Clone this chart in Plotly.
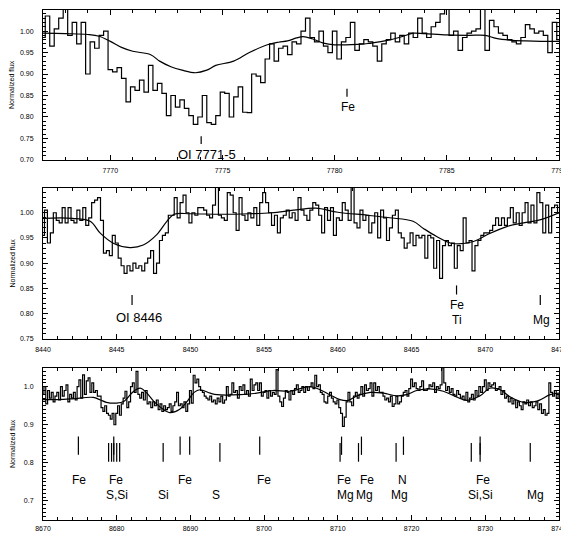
import numpy as np
import plotly.graph_objects as go

# ---------------- data ----------------
# Panel 1 (OI 7771-5 region), binned spectrum
p1_start, p1_step = 7767.0, 0.2
p1_flux = [
    0.985, 1.035, 0.965, 1.005, 1.03, 1.06, 0.99, 1.02, 0.97, 1.02,
    0.90, 0.975, 0.96, 0.99, 1.00, 0.91, 0.905, 0.915, 0.89, 0.835,
    0.87, 0.862, 0.886, 0.858, 0.92, 0.862, 0.878, 0.855, 0.803, 0.85,
    0.823, 0.84, 0.82, 0.803, 0.783, 0.80, 0.85, 0.787, 0.783, 0.803,
    0.858, 0.855, 0.80, 0.847, 0.87, 0.811, 0.81, 0.90, 0.895, 0.88,
    0.935, 0.97, 0.93, 0.96, 0.965, 0.945, 0.975, 0.97,
    1.00, 1.03, 0.985, 0.975, 1.00, 0.965, 0.95, 1.00, 0.935, 0.975,
    0.985, 1.02, 0.955, 0.97, 0.98, 0.975, 0.965, 0.93, 0.97, 0.98,
    0.995, 0.975, 0.99, 0.97, 0.995, 0.985, 1.03, 0.995, 0.985, 1.01,
    1.02, 1.04, 1.06, 0.99, 1.00, 0.955, 0.985, 0.995, 1.00, 1.005,
    1.06, 0.955, 1.025, 1.01, 0.995, 0.99, 0.98, 0.975, 0.97, 0.985,
    1.015, 1.005, 0.995, 1.00, 0.99, 0.95, 1.02, 0.98,
]
p1_model_wl = [7767.0, 7768.0, 7769.0, 7769.5, 7770.0, 7770.5, 7771.0, 7771.8, 7772.2, 7772.7,
               7773.2, 7773.8, 7774.3, 7774.7, 7775.5, 7776.2, 7777.0, 7777.5, 7777.9, 7778.3,
               7778.6, 7779.0, 7779.5, 7780.0, 7780.5, 7781.0, 7781.5, 7782.0, 7782.5, 7783.0,
               7783.5, 7784.0, 7785.0, 7786.0, 7786.7, 7787.2, 7787.8, 7788.5, 7789.2, 7790.0]
p1_model_flux = [0.995, 0.994, 0.992, 0.988, 0.976, 0.962, 0.953, 0.945, 0.93, 0.917,
                 0.909, 0.903, 0.909, 0.92, 0.93, 0.95, 0.968, 0.974, 0.977, 0.984,
                 0.987, 0.982, 0.972, 0.968, 0.968, 0.969, 0.971, 0.975, 0.98, 0.987,
                 0.995, 0.994, 0.991, 0.99, 0.99, 0.983, 0.979, 0.977, 0.976, 0.976]

# Panel 2 (OI 8446 region)
p2_start, p2_step = 8440.0, 0.2
p2_flux = [
    0.955, 1.005, 0.94, 0.96, 1.00, 0.985, 0.98, 1.01, 0.98, 1.01,
    0.985, 0.98, 1.005, 0.985, 1.01, 0.975, 0.99, 1.02, 1.025, 1.03,
    0.985, 0.92, 0.925, 0.915, 0.955, 0.94, 0.91, 0.895, 0.88, 0.895,
    0.885, 0.90, 0.89, 0.895, 0.885, 0.90, 0.91, 0.925, 0.88, 0.90,
    0.945, 0.955, 0.96, 0.995, 0.995, 1.03, 0.99, 1.02, 1.035, 1.00,
    0.98, 1.00, 0.995, 1.01,
    1.01, 1.005, 0.995, 0.99, 1.015, 1.05, 0.995, 0.99, 0.985, 1.04, 1.035,
    1.00, 0.965, 1.03, 0.995, 0.985,
    1.00, 0.99, 1.01, 0.975, 1.02,
    1.04, 1.02, 1.00, 0.975, 0.995,
    0.96, 0.99, 0.995, 1.005, 0.99,
    1.00, 0.985, 1.03, 1.005, 0.995,
    0.985, 1.005, 1.02, 1.015, 0.995,
    0.96, 1.01, 0.985, 1.01, 0.955,
    0.99, 0.985, 1.02, 1.005, 0.985,
    1.065, 0.98, 0.97, 1.005, 0.985,
    0.995, 0.96, 0.98, 1.00, 0.95,
    1.005, 0.99, 0.945, 0.97, 0.995,
    1.005, 0.96, 0.95, 0.93, 0.94,
    0.96, 0.935, 0.955, 0.95, 0.955,
    0.91, 0.955, 0.95, 0.89, 0.945,
    0.87, 0.935, 0.945, 0.935, 0.94,
    0.89, 0.935, 0.925, 0.99, 0.94,
    0.945, 0.885, 0.935, 0.945, 0.955,
    0.96, 0.96, 0.965, 0.975, 0.99,
    0.975, 0.99, 0.975, 0.99, 1.01,
    0.98, 1.00, 0.975, 1.00, 1.02,
    0.98, 1.015, 0.98, 1.04, 1.02,
    0.96, 1.015, 0.96, 1.01, 1.015,
    1.00,
]
p2_model_wl = [8440.0, 8442.0, 8443.2, 8443.9, 8444.8, 8445.9, 8446.8, 8447.7, 8448.4, 8448.9,
               8450.0, 8452.0, 8454.0, 8455.5, 8457.0, 8458.5, 8460.0, 8462.0, 8463.5, 8465.1,
               8465.8, 8466.7, 8467.8, 8469.2, 8470.3, 8471.5, 8472.6, 8473.7, 8475.0]
p2_model_flux = [0.989, 0.989, 0.983, 0.959, 0.939, 0.931, 0.936, 0.956, 0.983, 0.997,
                 0.998, 0.997, 0.998, 1.0, 1.005, 1.009, 1.001, 0.995, 0.99, 0.983,
                 0.969, 0.953, 0.939, 0.943, 0.959, 0.973, 0.98, 0.986, 1.0]

# Panel 3 (8670-8740 region)
p3_start, p3_step = 8670.0, 0.25
p3_flux = [
    0.98, 1.0, 0.955, 0.99,  0.97, 0.985, 0.96, 0.975,  0.985, 0.965, 1.0, 0.975,
    0.99, 1.005, 0.96, 0.98,  0.97, 0.985, 0.965, 1.0,  1.018, 0.97, 1.031, 0.98,
    1.015, 1.023, 0.985, 1.01,  0.985, 0.99, 0.975, 0.975,  0.945, 0.935, 0.95, 0.93,
    0.925, 0.915, 0.93, 0.90,  0.93, 0.95, 0.925, 0.955,  0.97, 0.988, 0.945, 0.96,
    1.0, 1.01, 0.985, 1.04,  0.98, 0.97, 0.985, 0.965,  0.99, 0.955, 0.96, 0.945,
    0.96, 0.95, 0.965, 0.94,  0.955, 0.935, 0.95, 0.94,  0.945, 0.955, 0.935, 0.95,
    0.96, 0.985, 0.95, 0.955,  0.945, 0.96, 0.935, 0.955,  0.99, 0.957, 1.03, 1.01,
    1.02, 1.0, 0.99, 0.985,  0.975, 0.97, 0.965, 0.975,  0.96, 0.965, 0.955, 0.97,
    0.96, 0.975, 0.957, 0.965,  1.0, 0.975, 0.98, 1.01,  0.985, 0.99, 0.97, 1.0,
    0.99, 1.005, 0.98, 0.99,  0.975, 1.02, 0.99, 1.005,  1.01, 0.99, 1.01, 0.975,
    0.985, 0.99, 0.97, 0.99,  0.975, 0.985, 0.98, 1.045,  0.975, 0.96, 0.948, 0.97,
    0.99, 0.985, 0.965, 0.99,  0.98, 0.995, 1.005, 0.985,  0.99, 1.0, 0.985, 1.0,
    0.99, 1.0, 1.01, 0.995,  1.03, 1.0, 1.005, 0.985,  0.98, 0.96, 0.957, 0.975,
    0.985, 0.97, 0.96, 0.955,  0.965, 0.945, 0.93, 0.896,  0.92, 0.96, 0.985, 0.96,
    0.95, 0.975, 0.985, 0.97,  0.98, 1.0, 0.975, 1.005,  0.99, 0.995, 1.01, 0.975,
    1.01, 0.99, 1.0, 0.985,  0.985, 0.975, 0.965, 0.97,  0.96, 0.975, 0.948, 0.955,
    0.975, 0.955, 0.96, 0.975,  0.985, 0.99, 0.975, 0.995,  1.02, 1.0, 1.01, 0.995,
    0.99, 1.0, 1.015, 0.99,  0.99, 0.995, 1.005, 1.0,  1.01, 0.985, 1.0, 0.995,
    1.005, 1.05, 1.01, 0.99,  1.0, 0.985, 0.995, 0.98,  0.975, 0.99, 0.98, 0.97,
    0.975, 0.965, 0.985, 0.96,  0.97, 0.98, 0.965, 0.99,  0.975, 1.0, 0.985, 1.0,
    1.018, 0.99, 1.01, 1.0,  1.005, 1.01, 0.99, 0.995,  1.0, 0.98, 0.99, 0.97,
    0.975, 0.96, 0.97, 0.955,  0.965, 0.945, 0.96, 0.95,  0.94, 0.96, 0.955, 0.965,
    0.95, 0.96, 0.945, 0.95,  0.96, 0.94, 0.955, 0.93,  0.94, 0.925, 0.93, 1.01,
    0.985, 0.975, 0.99, 0.97,  0.98,
]
p3_model_wl = [8670.0, 8672.0, 8674.0, 8676.8, 8677.8, 8678.6, 8680.0, 8681.0, 8682.3, 8683.2,
               8684.0, 8685.0, 8686.0, 8687.2, 8688.5, 8689.5, 8690.5, 8691.3, 8692.7, 8693.6,
               8696.7, 8699.0, 8701.2, 8703.5, 8706.2, 8707.6, 8708.9, 8710.3, 8711.4, 8712.6,
               8714.4, 8716.2, 8718.0, 8719.3, 8720.7, 8722.5, 8724.3, 8726.1, 8727.5, 8729.3,
               8730.6, 8732.0, 8733.4, 8735.2, 8737.0, 8738.8, 8740.0]
p3_model_flux = [0.966, 0.966, 0.968, 0.972, 0.965, 0.959, 0.957, 0.962, 0.988, 0.996,
                 0.985, 0.962, 0.945, 0.932, 0.94, 0.96, 0.985, 0.992, 0.983, 0.979,
                 0.979, 0.983, 0.99, 0.988, 1.0, 0.992, 0.979, 0.966, 0.964, 0.976,
                 0.985, 0.983, 0.976, 0.979, 0.99, 0.994, 0.988, 0.973, 0.964, 0.976,
                 0.996, 0.992, 0.973, 0.959, 0.962, 0.979, 0.983]

# Line identifications
p1_lines = [7774.05, 7780.55]
p1_labels = ["OI 7771-5", "Fe"]
p1_label_wl = [7774.3, 7780.6]

p2_lines_hi = [8468.05]
p2_lines_mid = [8446.04, 8473.73]
p2_labels = ["OI 8446", "Fe", "Ti", "Mg"]
p2_label_wl = [8446.5, 8468.05, 8468.05, 8473.8]

p3_upper_lines = [8674.8, 8679.6, 8688.6, 8689.9, 8699.4, 8710.5, 8713.2, 8718.9, 8729.3]
p3_lower_lines = [8678.9, 8679.3, 8679.6, 8680.0, 8680.4, 8686.3, 8694.0, 8710.3, 8712.8,
                  8717.9, 8728.1, 8729.3, 8736.1]
p3_upper_labels = ["Fe", "Fe", "Fe", "Fe", "Fe", "Fe", "N", "Fe"]
p3_upper_label_wl = [8674.9, 8679.9, 8689.3, 8700.0, 8710.9, 8714.0, 8718.75, 8729.7]
p3_lower_labels = ["S,Si", "Si", "S", "Mg", "Mg", "Mg", "Si,Si", "Mg"]
p3_lower_label_wl = [8680.0, 8686.3, 8693.5, 8711.0, 8713.6, 8718.3, 8729.3, 8736.75]

# ---------------- figure ----------------
fig = go.Figure()
LW = 1.2
FONT = "Liberation Sans"


def grid(start, step, n):
    return start + step * np.arange(n)


def axn(ax):
    return ("x", "y") if ax == 1 else (f"x{ax}", f"y{ax}")


def add_spec(wl0, dwl, flux, model_wl, model_flux, ax):
    xa, ya = axn(ax)
    fig.add_trace(go.Scatter(x=grid(wl0, dwl, len(flux)), y=flux, mode="lines",
                             line=dict(color="black", width=LW, shape="hvh"),
                             xaxis=xa, yaxis=ya, showlegend=False, hoverinfo="skip"))
    fig.add_trace(go.Scatter(x=model_wl, y=model_flux, mode="lines",
                             line=dict(color="black", width=LW, shape="spline", smoothing=1.0),
                             xaxis=xa, yaxis=ya, showlegend=False, hoverinfo="skip"))


def add_marks(wls, y0, y1, ax):
    xa, ya = axn(ax)
    xs, ys = [], []
    for w in wls:
        xs += [w, w, None]
        ys += [y0, y1, None]
    fig.add_trace(go.Scatter(x=xs, y=ys, mode="lines", line=dict(color="black", width=LW),
                             xaxis=xa, yaxis=ya, showlegend=False, hoverinfo="skip",
                             cliponaxis=False))


def add_labels(texts, wls, yv, ax, size=12):
    xa, ya = axn(ax)
    for t, w in zip(texts, wls):
        fig.add_annotation(x=w, y=yv, xref=xa, yref=ya, text=t, showarrow=False,
                           xanchor="center", yanchor="middle", borderpad=0,
                           font=dict(family=FONT, size=size, color="black"))


add_spec(p1_start, p1_step, p1_flux, p1_model_wl, p1_model_flux, 1)
add_spec(p2_start, p2_step, p2_flux, p2_model_wl, p2_model_flux, 2)
add_spec(p3_start, p3_step, p3_flux, p3_model_wl, p3_model_flux, 3)

# panel 1 marks / labels
add_marks([p1_lines[0]], 0.737, 0.755, 1)
add_marks([p1_lines[1]], 0.847, 0.866, 1)
add_labels([p1_labels[0]], [p1_label_wl[0]], 0.713, 1, 13)
add_labels([p1_labels[1]], [p1_label_wl[1]], 0.824, 1)

# panel 2
add_marks(p2_lines_hi, 0.838, 0.856, 2)
add_marks(p2_lines_mid, 0.817, 0.837, 2)
add_labels([p2_labels[0]], [p2_label_wl[0]], 0.793, 2, 13)
add_labels([p2_labels[1]], [p2_label_wl[1]], 0.818, 2)
add_labels(p2_labels[2:], p2_label_wl[2:], 0.788, 2)

# panel 3
add_marks(p3_upper_lines, 0.821, 0.869, 3)
add_marks(p3_lower_lines, 0.803, 0.852, 3)
add_labels(p3_upper_labels, p3_upper_label_wl, 0.756, 3)
add_labels(p3_lower_labels, p3_lower_label_wl, 0.716, 3)

common = dict(showline=True, linecolor="black", linewidth=1, mirror="allticks",
              ticks="inside", ticklen=5, tickwidth=1, tickcolor="black",
              showgrid=False, zeroline=False,
              tickfont=dict(family=FONT, size=7, color="black"))


def minor(dt, t0):
    return dict(ticks="inside", ticklen=3, tickwidth=1, tickcolor="black",
                dtick=dt, tick0=t0, showgrid=False)


doms = [[0.7059, 1.0], [0.3549, 0.651], [0.0, 0.298]]
xranges = [[7767.0, 7790.0001], [8439.9999, 8475.0001], [8669.9999, 8740.0001]]
xdt = [5, 5, 10]
xmdt = [1, 1, 2]
xstand = [4, 4, 2]
yranges = [[0.6999, 1.049], [0.7499, 1.049], [0.65, 1.049]]
ydt = [0.05, 0.05, 0.1]
yt0 = [0.70, 0.75, 0.7]
yfmt = [".2f", ".2f", ".1f"]

# the page body adds an 8px offset, so the figure is 8px smaller than the window
layout = dict(
    width=561, height=525,
    margin=dict(l=35, r=10, t=2, b=13, autoexpand=False),
    paper_bgcolor="white", plot_bgcolor="white",
    showlegend=False,
)
for i in range(3):
    sx = "xaxis" if i == 0 else f"xaxis{i+1}"
    sy = "yaxis" if i == 0 else f"yaxis{i+1}"
    xa, ya = axn(i + 1)
    layout[sx] = dict(common, domain=[0, 1], range=xranges[i], anchor=ya,
                      dtick=xdt[i], tick0=0, tickformat="d",
                      ticklabelstandoff=xstand[i], ticklabeloverflow="allow",
                      minor=minor(xmdt[i], 0))
    layout[sy] = dict(common, domain=doms[i], range=yranges[i], anchor=xa,
                      dtick=ydt[i], tick0=yt0[i], tickformat=yfmt[i],
                      ticklabelstandoff=7, ticklabeloverflow="allow",
                      minor=minor(0.01, yt0[i]))
fig.update_layout(**layout)

for i in range(3):
    fig.add_annotation(text="Normalized flux", xref="paper", yref="paper",
                       x=-0.06, y=sum(doms[i]) / 2, textangle=-90, showarrow=False,
                       xanchor="center", yanchor="middle",
                       font=dict(family=FONT, size=7, color="black"))

fig.write_html("out.html")
